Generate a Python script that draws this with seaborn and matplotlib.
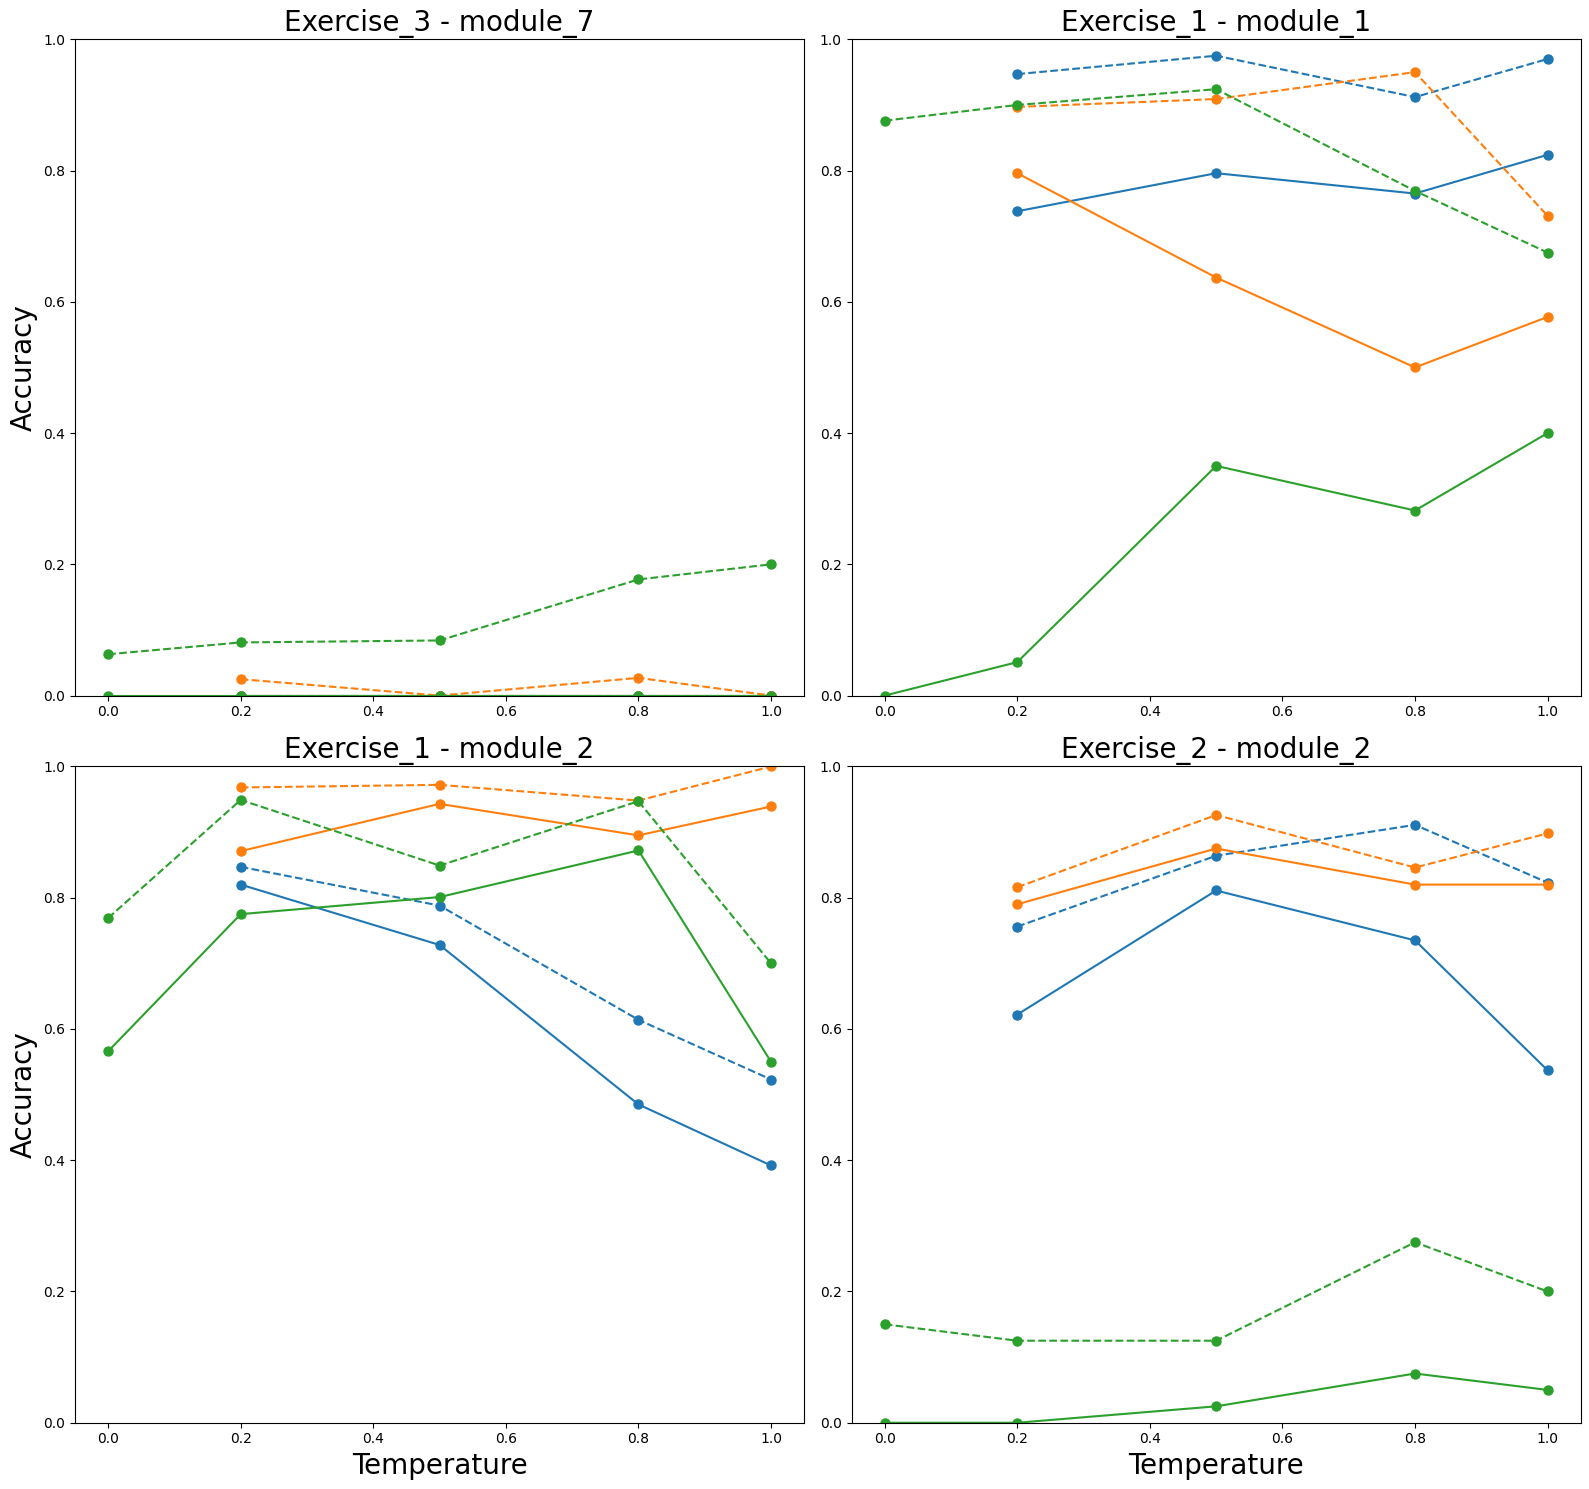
import numpy as np
import pandas as pd
import matplotlib
matplotlib.use("Agg")
import matplotlib.pyplot as plt
import seaborn as sns

temps = [0.0, 0.2, 0.5, 0.8, 1.0]
nan = np.nan

# Exercise_3 - module_7
e3m7_blue_solid = [nan, 0.0, 0.0, 0.0, 0.0]
e3m7_blue_dash = [nan, 0.0, 0.0, 0.0, 0.0]
e3m7_orange_solid = [nan, 0.0, 0.0, 0.0, 0.0]
e3m7_orange_dash = [nan, 0.025, 0.0, 0.027, 0.0]
e3m7_green_solid = [0.0, 0.0, 0.0, 0.0, 0.0]
e3m7_green_dash = [0.063, 0.081, 0.084, 0.177, 0.2]

# Exercise_1 - module_1
e1m1_blue_solid = [nan, 0.738, 0.796, 0.765, 0.824]
e1m1_blue_dash = [nan, 0.947, 0.975, 0.912, 0.970]
e1m1_orange_solid = [nan, 0.796, 0.637, 0.5, 0.577]
e1m1_orange_dash = [nan, 0.897, 0.909, 0.950, 0.731]
e1m1_green_solid = [0.0, 0.051, 0.35, 0.282, 0.4]
e1m1_green_dash = [0.876, 0.900, 0.924, 0.769, 0.675]

# Exercise_1 - module_2
e1m2_blue_solid = [nan, 0.820, 0.728, 0.485, 0.392]
e1m2_blue_dash = [nan, 0.847, 0.788, 0.614, 0.523]
e1m2_orange_solid = [nan, 0.871, 0.943, 0.895, 0.939]
e1m2_orange_dash = [nan, 0.968, 0.972, 0.948, 1.0]
e1m2_green_solid = [0.566, 0.775, 0.801, 0.872, 0.550]
e1m2_green_dash = [0.769, 0.949, 0.849, 0.947, 0.700]

# Exercise_2 - module_2
e2m2_blue_solid = [nan, 0.622, 0.811, 0.735, 0.537]
e2m2_blue_dash = [nan, 0.756, 0.864, 0.911, 0.823]
e2m2_orange_solid = [nan, 0.790, 0.875, 0.820, 0.820]
e2m2_orange_dash = [nan, 0.816, 0.926, 0.846, 0.898]
e2m2_green_solid = [0.0, 0.0, 0.025, 0.075, 0.05]
e2m2_green_dash = [0.15, 0.125, 0.125, 0.275, 0.2]

titles = ["Exercise_3 - module_7", "Exercise_1 - module_1",
          "Exercise_1 - module_2", "Exercise_2 - module_2"]

panels = [
    [e3m7_blue_solid, e3m7_blue_dash, e3m7_orange_solid, e3m7_orange_dash, e3m7_green_solid, e3m7_green_dash],
    [e1m1_blue_solid, e1m1_blue_dash, e1m1_orange_solid, e1m1_orange_dash, e1m1_green_solid, e1m1_green_dash],
    [e1m2_blue_solid, e1m2_blue_dash, e1m2_orange_solid, e1m2_orange_dash, e1m2_green_solid, e1m2_green_dash],
    [e2m2_blue_solid, e2m2_blue_dash, e2m2_orange_solid, e2m2_orange_dash, e2m2_green_solid, e2m2_green_dash],
]

colors = ["#1f77b4", "#1f77b4", "#ff7f0e", "#ff7f0e", "#2ca02c", "#2ca02c"]
styles = ["-", "--", "-", "--", "-", "--"]

fig, axes = plt.subplots(2, 2, figsize=(15.89, 14.89), dpi=100)

for i, ax in enumerate(axes.flat):
    for vals, c, ls in zip(panels[i], colors, styles):
        df = pd.DataFrame({"Temperature": temps, "Accuracy": vals}).dropna()
        sns.lineplot(data=df, x="Temperature", y="Accuracy", ax=ax, color=c,
                     linestyle=ls, marker="o", markersize=6.5,
                     markeredgecolor=c, markeredgewidth=1, linewidth=1.5)
    ax.set_title(titles[i], fontsize=20)
    ax.set_ylim(0, 1)
    ax.set_xlabel("")
    ax.set_ylabel("")
    if i % 2 == 0:
        ax.set_ylabel("Accuracy", fontsize=20)
    if i >= 2:
        ax.set_xlabel("Temperature", fontsize=20)

plt.subplots_adjust(left=0.0472, right=0.9948, top=0.9736, bottom=0.0445,
                    wspace=0.065, hspace=0.108)
plt.savefig("out.png", dpi=100)
